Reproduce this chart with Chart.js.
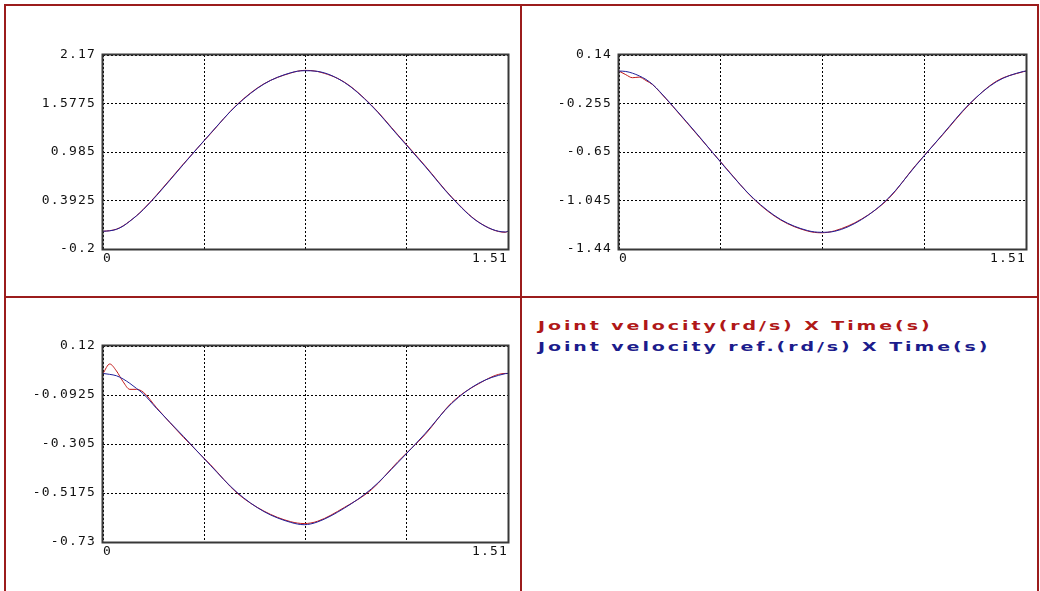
<!DOCTYPE html>
<html>
<head>
<meta charset="utf-8">
<script src="https://cdn.jsdelivr.net/npm/chart.js@4/dist/chart.umd.min.js"></script>
<style>
  html, body { margin: 0; padding: 0; background: #ffffff; }
  body { width: 1040px; height: 591px; position: relative; overflow: hidden; }
  .rl { position: absolute; background: #9b1c1c; }
  canvas { position: absolute; }
  .leg { position: absolute; font-family: "DejaVu Sans", sans-serif; font-weight: bold; font-size: 13px;
         letter-spacing: 2px; white-space: nowrap; transform: scaleX(1.46); transform-origin: 0 50%; line-height: 16px; }
</style>
</head>
<body>
<div class="rl" style="left:4px;top:4px;width:1035px;height:2px"></div>
<div class="rl" style="left:4px;top:4px;width:2px;height:587px"></div>
<div class="rl" style="left:1037px;top:4px;width:2px;height:587px"></div>
<div class="rl" style="left:520px;top:4px;width:2px;height:587px"></div>
<div class="rl" style="left:4px;top:296px;width:1035px;height:2px"></div>

<canvas id="c1" width="506" height="270" style="left:10px;top:15px"></canvas>
<canvas id="c2" width="506" height="270" style="left:526px;top:15px"></canvas>
<canvas id="c3" width="506" height="270" style="left:10px;top:305px"></canvas>

<div class="leg" style="left:538px;top:318px;color:#b01818">Joint velocity(rd/s) X Time(s)</div>
<div class="leg" style="left:538px;top:339px;color:#1c1c8c">Joint velocity ref.(rd/s) X Time(s)</div>

<script>
// ---- data ----
const time = [0, 0.025, 0.05, 0.075, 0.1, 0.125, 0.15, 0.2, 0.3, 0.4, 0.5, 0.6, 0.7, 0.75, 0.8, 0.9, 1.0, 1.1, 1.2, 1.3, 1.4, 1.5, 1.51];

const p1Ref    = [0.017, 0.022, 0.040, 0.080, 0.139, 0.205, 0.280, 0.454, 0.834, 1.210, 1.560, 1.815, 1.953, 1.978, 1.970, 1.835, 1.555, 1.185, 0.813, 0.429, 0.127, 0.008, 0.017];
const p1Actual = [0.017, 0.024, 0.042, 0.082, 0.141, 0.207, 0.284, 0.460, 0.840, 1.205, 1.565, 1.818, 1.950, 1.982, 1.968, 1.838, 1.560, 1.192, 0.820, 0.434, 0.130, 0.004, 0.017];

const p2Ref    = [0.009, 0.006, -0.008, -0.030, -0.059, -0.100, -0.155, -0.277, -0.530, -0.792, -1.030, -1.200, -1.290, -1.304, -1.296, -1.200, -1.025, -0.764, -0.508, -0.258, -0.078, 0.006, 0.009];
const p2Actual = [0.009, -0.020, -0.045, -0.040, -0.068, -0.102, -0.158, -0.280, -0.534, -0.788, -1.034, -1.204, -1.294, -1.308, -1.292, -1.196, -1.030, -0.760, -0.512, -0.262, -0.074, 0.004, 0.009];

const p3Ref    = [0.001, -0.003, -0.009, -0.023, -0.042, -0.064, -0.087, -0.151, -0.272, -0.397, -0.515, -0.598, -0.645, -0.655, -0.643, -0.583, -0.500, -0.385, -0.261, -0.129, -0.042, 0.000, 0.001];
const p3Actual = [0.001, 0.042, 0.012, -0.035, -0.068, -0.068, -0.080, -0.148, -0.276, -0.394, -0.518, -0.596, -0.642, -0.650, -0.640, -0.580, -0.504, -0.381, -0.265, -0.126, -0.044, 0.001, 0.001];

const xTickValues = [0, 0.3775, 0.755, 1.1325, 1.51];
const xTickLabels = ['0', '', '', '', '1.51'];

const p1YTicks  = [-0.2, 0.3925, 0.985, 1.5775, 2.17];
const p1YLabels = ['-0.2', '0.3925', '0.985', '1.5775', '2.17'];
const p2YTicks  = [-1.44, -1.045, -0.65, -0.255, 0.14];
const p2YLabels = ['-1.44', '-1.045', '-0.65', '-0.255', '0.14'];
const p3YTicks  = [-0.73, -0.5175, -0.305, -0.0925, 0.12];
const p3YLabels = ['-0.73', '-0.5175', '-0.305', '-0.0925', '0.12'];

// ---- styling ----
const RED = '#c01818';
const BLUE = '#20209a';
const TICK_FONT = { family: '"DejaVu Sans Mono", monospace', size: 13 };

const spacingPlugin = {
  id: 'spacing',
  beforeDraw(chart) { chart.ctx.letterSpacing = '1.2px'; }
};
const framePlugin = {
  id: 'frame',
  afterDatasetsDraw(chart) {
    const a = chart.chartArea, c = chart.ctx;
    c.save();
    c.setLineDash([]);
    c.strokeStyle = '#383838';
    c.lineWidth = 2;
    const l = Math.round(a.left), t = Math.round(a.top);
    const r = Math.round(a.right), b = Math.round(a.bottom);
    c.strokeRect(l - 0.5, t - 0.5, r - l + 1, b - t + 1);
    c.restore();
  }
};

function pts(arr) { return time.map((t, i) => ({ x: t, y: arr[i] })); }

function makeChart(id, actual, ref, yTicks, yLabels, box) {
  return new Chart(document.getElementById(id), {
    type: 'line',
    data: {
      datasets: [
        { label: 'Joint velocity ref.(rd/s) X Time(s)', data: pts(ref), borderColor: BLUE, borderWidth: 1,
          pointRadius: 0, cubicInterpolationMode: 'monotone', order: 0 },
        { label: 'Joint velocity(rd/s) X Time(s)', data: pts(actual), borderColor: RED, borderWidth: 1,
          pointRadius: 0, cubicInterpolationMode: 'monotone', order: 1 }
      ]
    },
    options: {
      responsive: false,
      animation: false,
      events: [],
      layout: { padding: { left: 0, top: box.top, right: box.right, bottom: 0 } },
      plugins: { legend: { display: false }, tooltip: { enabled: false } },
      scales: {
        x: {
          type: 'linear', min: xTickValues[0], max: xTickValues[xTickValues.length - 1],
          afterBuildTicks: s => { s.ticks = xTickValues.map(v => ({ value: v })); },
          afterFit: s => { s.height = box.xh; },
          ticks: { callback: (v, i) => xTickLabels[i], align: 'inner', autoSkip: false, maxRotation: 0,
                   padding: 2, font: TICK_FONT, color: '#111' },
          grid: { color: '#000', lineWidth: 1, drawTicks: false },
          border: { display: false, dash: [2, 2] }
        },
        y: {
          type: 'linear', min: yTicks[0], max: yTicks[yTicks.length - 1],
          afterBuildTicks: s => { s.ticks = yTicks.map(v => ({ value: v })); },
          afterFit: s => { s.width = box.yw; },
          ticks: { callback: (v, i) => yLabels[i], autoSkip: false, padding: 7, font: TICK_FONT, color: '#111' },
          grid: { color: '#000', lineWidth: 1, drawTicks: false },
          border: { display: false, dash: [2, 2] }
        }
      }
    },
    plugins: [spacingPlugin, framePlugin]
  });
}

makeChart('c1', p1Actual, p1Ref, p1YTicks, p1YLabels, { top: 40, right: 8, xh: 36, yw: 93 });
makeChart('c2', p2Actual, p2Ref, p2YTicks, p2YLabels, { top: 40, right: 6, xh: 36, yw: 93 });
makeChart('c3', p3Actual, p3Ref, p3YTicks, p3YLabels, { top: 41, right: 8, xh: 33, yw: 93 });
</script>
</body>
</html>
